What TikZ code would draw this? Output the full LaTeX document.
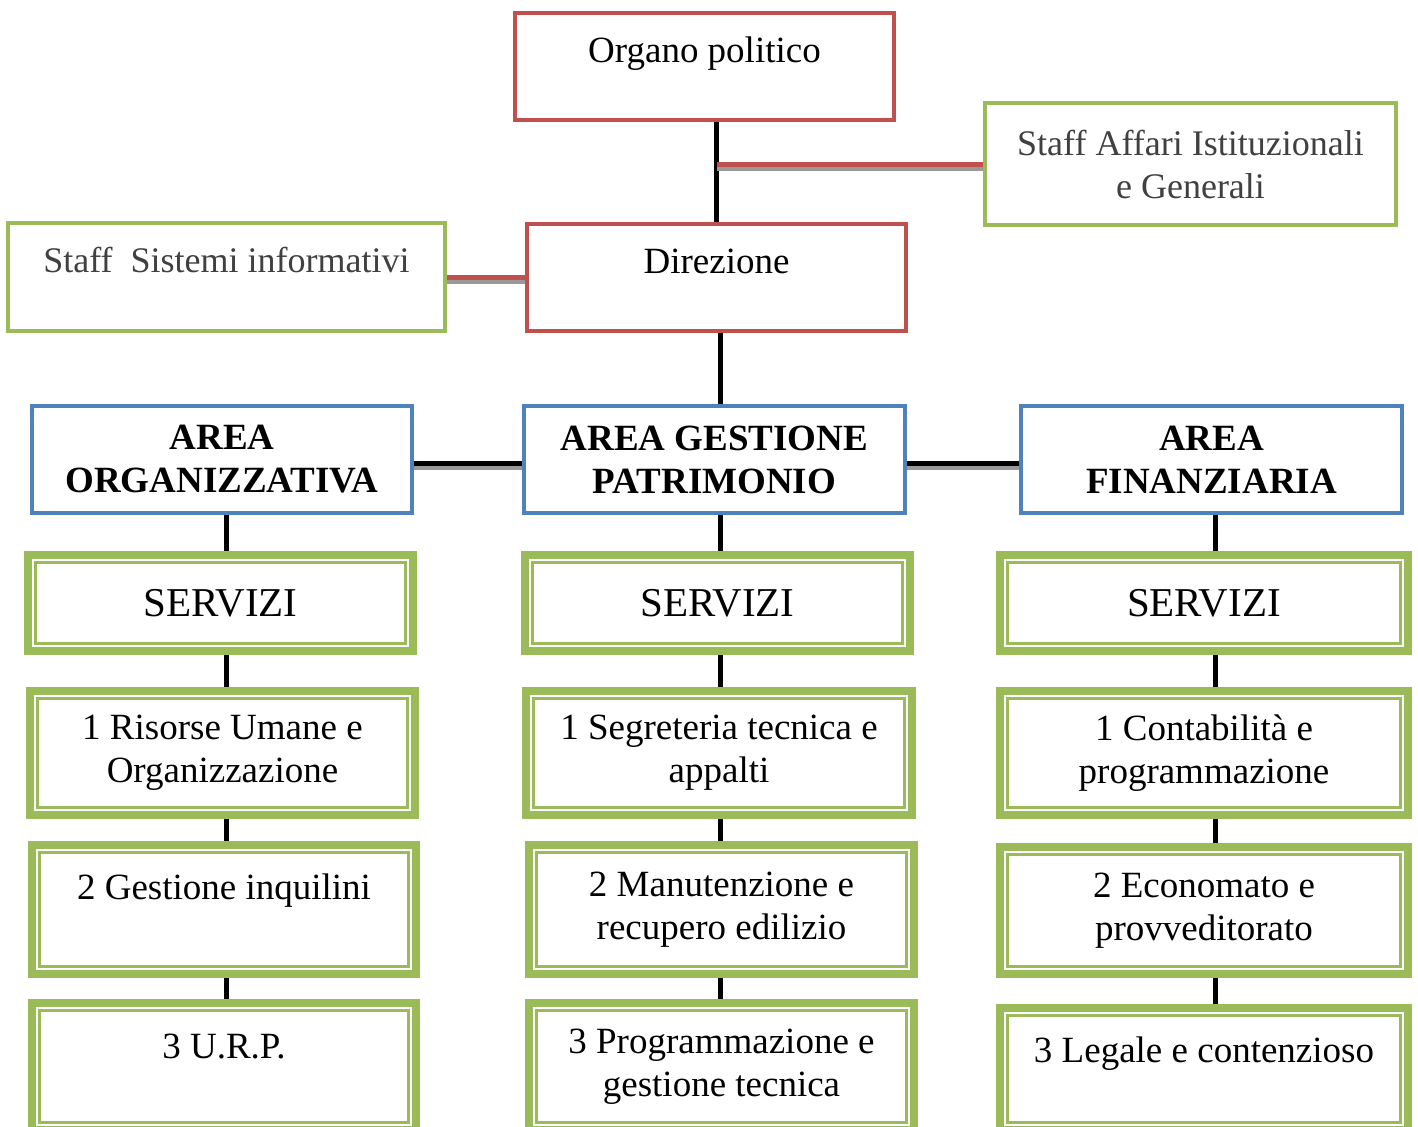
\documentclass[tikz,border=0pt]{standalone}
\usepackage{fontspec}
\setmainfont{Liberation Serif}
\usetikzlibrary{positioning, calc, backgrounds}
\definecolor{boxred}{HTML}{C0504D}
\definecolor{boxblue}{HTML}{4F81BD}
\definecolor{boxgreen}{HTML}{9BBB59}
\definecolor{stafftext}{HTML}{404040}
\tikzset{
	base/.style={
		rectangle,
		fill=white,
		align=center,
		font=\fontsize{18.5}{21.5}\selectfont
	},
	organ/.style={
		base,
		draw=boxred,
		line width=2pt,
		minimum width=189.5pt,
		minimum height=53.5pt
	},
	staff/.style={
		base,
		draw=boxgreen,
		line width=2pt,
		text=stafftext,
		font=\fontsize{18}{21.5}\selectfont
	},
	area/.style={
		base,
		draw=boxblue,
		line width=2pt,
		minimum width=190pt,
		minimum height=53.5pt,
		font=\fontsize{18.5}{21.5}\selectfont\bfseries
	},
	servbox/.style={
		base,
		draw=boxgreen,
		line width=4pt,
		path picture={\draw[boxgreen, line width=1.5pt]
			([shift={(3.75pt,-3.75pt)}]path picture bounding box.north west) rectangle
			([shift={(-3.75pt,3.75pt)}]path picture bounding box.south east);}
	},
	servizi/.style={
		servbox,
		minimum height=48pt,
		font=\fontsize{20.5}{24}\selectfont
	},
	firstline/.style={text height=#1, text depth=26pt, inner ysep=1pt},
	firstline/.default=16pt,
	link/.style={line width=2.5pt},
	shadowed/.style={preaction={draw=black!40, line width=2pt, transform canvas={yshift=-2.35pt}}}
}

\begin{document}
\begin{tikzpicture}[x=0.5pt, y=-0.5pt]
	\useasboundingbox (0,0) rectangle (1418,1126);
	\clip (0,0) rectangle (1418,1126);

	\node (org) [organ, firstline=22.5pt] at (704.5,66) {Organo politico};
	\node (staffai) [staff, minimum width=205.5pt, minimum height=61pt] at (1190.5,164) {Staff Affari Istituzionali\\e Generali};
	\node (dir) [organ, firstline=22pt] at (716.5,277.5) {Direzione};
	\node (staffsi) [staff, firstline=21pt, minimum width=218.5pt, minimum height=54pt] at (226.5,277) {Staff\ \ Sistemi informativi};

	\node (areao) [area] at (222,459.5) {AREA\\ORGANIZZATIVA};
	\node (areag) [area, minimum width=190.5pt] at (714.5,459.5) {AREA GESTIONE\\PATRIMONIO};
	\node (areaf) [area, minimum width=190.5pt] at (1211.5,459.5) {AREA\\FINANZIARIA};

	\node (servo) [servizi, minimum width=192.5pt] at (220.5,603) {SERVIZI};
	\node (servg) [servizi, minimum width=192.5pt] at (717.5,603) {SERVIZI};
	\node (servf) [servizi, minimum width=204pt] at (1204,603) {SERVIZI};

	\node (risorse) [servbox, minimum width=192.5pt, minimum height=62pt] at (222.5,753) {1 Risorse Umane e\\Organizzazione};
	\node (segreteria) [servbox, minimum width=193pt, minimum height=62pt] at (719,753) {1 Segreteria tecnica e\\appalti};
	\node (contab) [servbox, minimum width=204pt, minimum height=62pt] at (1204,753) {1 Contabilità e\\programmazione};

	\node (inquilini) [servbox, firstline, minimum width=192pt, minimum height=64.5pt] at (224,909.5) {2 Gestione inquilini};
	\node (manut) [servbox, minimum width=192.5pt, minimum height=64.5pt] at (721.5,909.5) {2 Manutenzione e\\recupero edilizio};
	\node (econ) [servbox, minimum width=204pt, minimum height=63.5pt] at (1204,910.5) {2 Economato e\\provveditorato};

	\node (urp) [servbox, firstline=18pt, minimum width=192pt, minimum height=63.5pt] at (224,1066.5) {3 U.R.P.};
	\node (progr) [servbox, minimum width=192.5pt, minimum height=63.5pt] at (721.5,1066.5) {3 Programmazione e\\gestione tecnica};
	\node (legale) [servbox, firstline=19pt, minimum width=204pt, minimum height=61pt] at (1204,1069) {3 Legale e contenzioso};

	\begin{scope}[on background layer]
		\coordinate (axisO) at (226,0);
		\coordinate (axisG) at (720,0);
		\coordinate (axisF) at (1215,0);

		\draw [link] (org.south -| dir.north) -- (dir.north);
		\draw [link, boxred, shadowed] (staffai.west) -- (staffai.west -| dir.north);
		\draw [link, boxred, shadowed] (staffsi.east) -- (staffsi.east -| dir.west);
		\draw [link] (dir.south -| axisG) -- (areag.north -| axisG);
		\draw [link, shadowed] ([yshift=-1.75pt]areao.east) -- ([yshift=-1.75pt]areag.west);
		\draw [link, shadowed] ([yshift=-1.75pt]areag.east) -- ([yshift=-1.75pt]areaf.west);

		\foreach \a/\b in {areao/servo, servo/risorse, risorse/inquilini, inquilini/urp}
			\draw [link] (\a.south -| axisO) -- (\b.north -| axisO);
		\foreach \a/\b in {areag/servg, servg/segreteria, segreteria/manut, manut/progr}
			\draw [link] (\a.south -| axisG) -- (\b.north -| axisG);
		\foreach \a/\b in {areaf/servf, servf/contab, contab/econ, econ/legale}
			\draw [link] (\a.south -| axisF) -- (\b.north -| axisF);
	\end{scope}
\end{tikzpicture}
\end{document}
